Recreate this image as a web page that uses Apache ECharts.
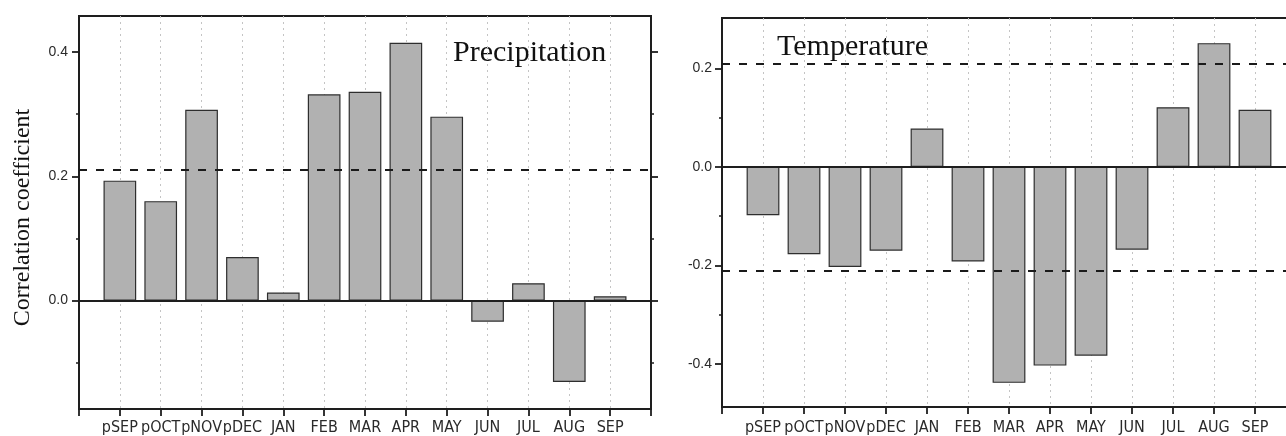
<!DOCTYPE html>
<html>
<head>
<meta charset="utf-8">
<script src="https://cdn.jsdelivr.net/npm/echarts@6/dist/echarts.min.js"></script>
<style>
html,body{margin:0;padding:0;background:#fff;overflow:hidden;}
#c{width:1310px;height:436px;}
</style>
</head>
<body>
<div id="c"></div>
<script>
// ---- data ----
var categories = ['pSEP','pOCT','pNOV','pDEC','JAN','FEB','MAR','APR','MAY','JUN','JUL','AUG','SEP'];
var precipitation = [0.193, 0.160, 0.307, 0.070, 0.013, 0.332, 0.336, 0.415, 0.296, -0.034, 0.028, -0.131, 0.007];
var temperature = [-0.098, -0.177, -0.203, -0.170, 0.078, -0.192, -0.438, -0.403, -0.383, -0.168, 0.121, 0.251, 0.116];
var precipThreshold = [0.208];
var tempThreshold = [0.211, -0.211];
var precipMajorTicks = [0, 0.2, 0.4];
var precipMinorTicks = [-0.1, 0.1, 0.3];
var tempMajorTicks = [-0.4, -0.2, 0, 0.2];
var tempMinorTicks = [-0.3, -0.1, 0.1];
var panelTitles = ['Precipitation', 'Temperature'];
var yName = 'Correlation coefficient';

// padded categories so that the first/last bars sit one slot away from the frame
var padCats = [''].concat(categories, ['']);
function pad(arr){ return [null].concat(arr, [null]); }

var chart = echarts.init(document.getElementById('c'));
var frame = '#1e1e1e';
var labelFont = "'Liberation Sans', Arial, sans-serif";
var narrowFont = "'Liberation Sans Narrow', 'DejaVu Sans Condensed', 'Liberation Sans', Arial, sans-serif";

function xAxisFor(gi, margin){
  return {
    type: 'category', gridIndex: gi, data: padCats, boundaryGap: false, position: 'bottom',
    axisLine: {show: true, onZero: false, lineStyle: {color: frame, width: 2}},
    axisTick: {show: true, length: 7, inside: false, lineStyle: {color: frame, width: 1.8}},
    axisLabel: {interval: 0, margin: margin, color: '#2a2a2a', fontFamily: narrowFont, fontSize: 16},
    splitLine: {show: true, interval: function(i){ return i > 0 && i < padCats.length - 1; },
      lineStyle: {color: '#c4c4c4', type: [2, 4], width: 1}}
  };
}
function yAxesFor(gi, min, max, major, minor, margin){
  var base = {type: 'value', gridIndex: gi, min: min, max: max, splitLine: {show: false}};
  return [
    Object.assign({}, base, {position: 'left',
      axisLine: {show: true, lineStyle: {color: frame, width: 2}},
      axisTick: {show: true, length: 7, customValues: major, lineStyle: {color: frame, width: 1.8}},
      axisLabel: {show: true, customValues: major, margin: margin, color: '#2a2a2a', fontFamily: labelFont, fontSize: 14,
        formatter: function(v){ return v.toFixed(1); }}}),
    Object.assign({}, base, {position: 'left',
      axisLine: {show: false},
      axisTick: {show: true, length: 3, customValues: minor, lineStyle: {color: frame, width: 1.5}},
      axisLabel: {show: false}}),
    Object.assign({}, base, {position: 'right',
      axisLine: {show: true, lineStyle: {color: frame, width: 2}},
      axisTick: {show: true, length: 7, customValues: major, lineStyle: {color: frame, width: 1.8}},
      axisLabel: {show: false}}),
    Object.assign({}, base, {position: 'right',
      axisLine: {show: false},
      axisTick: {show: true, length: 3, customValues: minor, lineStyle: {color: frame, width: 1.5}},
      axisLabel: {show: false}})
  ];
}

function barSeries(xi, yi, data, thresholds){
  var lines = [{yAxis: 0, lineStyle: {type: 'solid', width: 2, color: frame}}];
  thresholds.forEach(function(t){ lines.push({yAxis: t, lineStyle: {type: [8, 9], width: 2.2, color: '#1a1a1a'}}); });
  return {
    type: 'bar', xAxisIndex: xi, yAxisIndex: yi, data: pad(data), barWidth: '80%',
    itemStyle: {color: '#b1b1b1', borderColor: '#2e2e2e', borderWidth: 1.2},
    silent: true, animation: false,
    markLine: {silent: true, symbol: ['none', 'none'], label: {show: false}, animation: false, data: lines}
  };
}

var yLeft = yAxesFor(0, -0.1745, 0.458, precipMajorTicks, precipMinorTicks, 11);
var yRight = yAxesFor(1, -0.487, 0.302, tempMajorTicks, tempMinorTicks, 10);

chart.setOption({
  animation: false,
  backgroundColor: '#fff',
  grid: [
    {left: 79, top: 16, width: 572, height: 395, show: true, borderColor: frame, borderWidth: 2, backgroundColor: 'transparent'},
    {left: 722, top: 18, width: 574, height: 389, show: true, borderColor: frame, borderWidth: 2, backgroundColor: 'transparent'}
  ],
  xAxis: [xAxisFor(0, 11), xAxisFor(1, 13)],
  yAxis: yLeft.concat(yRight),
  series: [
    barSeries(0, 0, precipitation, precipThreshold),
    barSeries(1, 4, temperature, tempThreshold)
  ],
  graphic: [
    {type: 'text', left: 453, top: 38, style: {text: panelTitles[0], font: "30px 'Liberation Serif', 'Times New Roman', serif", fill: '#111'}},
    {type: 'text', left: 777, top: 32, style: {text: panelTitles[1], font: "30px 'Liberation Serif', 'Times New Roman', serif", fill: '#111'}},
    {type: 'text', x: 22.5, y: 217.5, rotation: Math.PI / 2,
      style: {text: yName, font: "24px 'Liberation Serif', 'Times New Roman', serif", fill: '#111', align: 'center', verticalAlign: 'middle'}}
  ]
});
</script>
</body>
</html>
